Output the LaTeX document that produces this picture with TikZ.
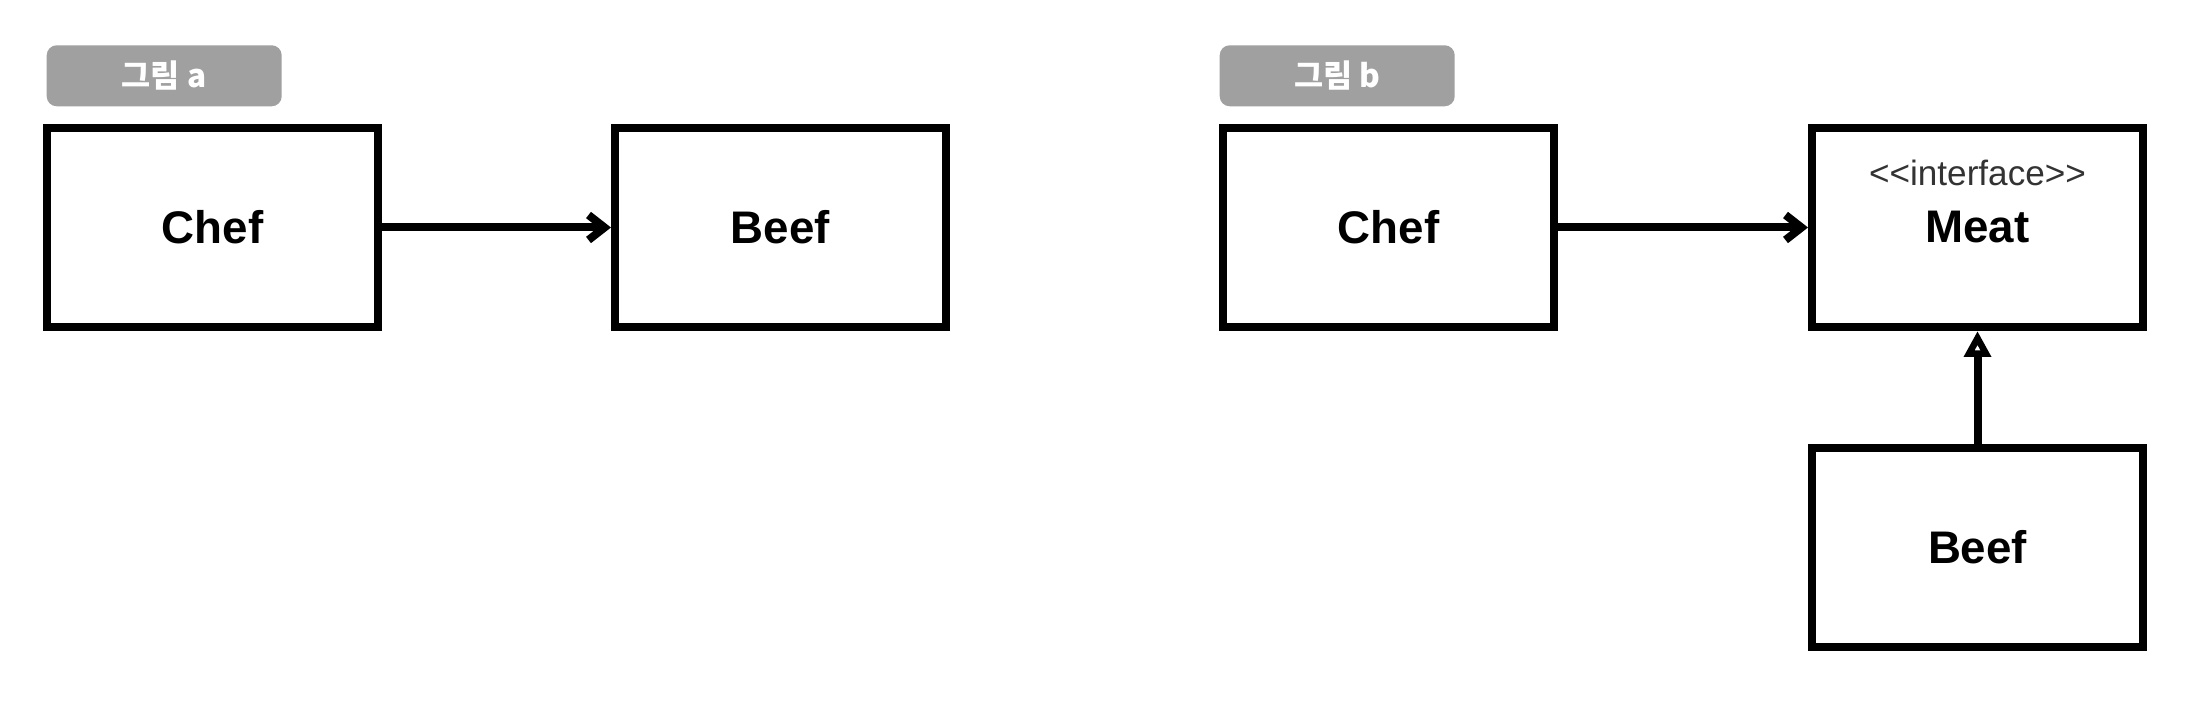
\documentclass[tikz,border=0pt]{standalone}
\usepackage{fontspec}
\setmainfont{Liberation Sans}
\newfontfamily\krfont{Noto Sans CJK KR}
\newfontfamily\stereofont{Liberation Sans}
\usepackage{tikz}
\usetikzlibrary{arrows.meta}
\usetikzlibrary{shapes,arrows,positioning}
\definecolor{tagGray}{HTML}{A0A0A0}
\definecolor{stereoGray}{HTML}{333333}
\tikzset{class-line/.style={line width=0.08cm}}
\tikzset{class-box/.style={draw, class-line, inner sep=0, minimum width=3.31cm, minimum height=1.99cm, font=\fontsize{13}{15}\selectfont\bfseries}}
\tikzset{tag-box/.style={fill=tagGray, rounded corners=0.1cm, inner sep=0, minimum width=2.35cm, minimum height=0.61cm, text=white, font=\krfont\fontsize{9}{11}\selectfont\bfseries}}
\tikzset{stereo-text/.style={inner sep=0, text=stereoGray, font=\stereofont\fontsize{10}{12}\selectfont}}
\tikzset{uses-arrow/.style={-{Straight Barb[length=0.16cm, width=0.25cm]}, class-line}}
\tikzset{extends-arrow/.style={-{Triangle[open, length=0.26cm, width=0.26cm]}, class-line}}
\begin{document}
\begin{tikzpicture}
    \useasboundingbox (0,0) rectangle (21.96,-7.08);
    % 그림 a
    \node[class-box] (chefa) at (2.125,-2.275) {Chef};
    \node[class-box, right=2.29cm of chefa] (beefa) {Beef};
    \node[tag-box, above=0.17cm of chefa.north west, anchor=south west, xshift=0.03cm] (taga) {그림 a};
    \draw[uses-arrow] (chefa) -- (beefa);

    % 그림 b
    \node[class-box, right=2.69cm of beefa] (chefb) {Chef};
    \node[class-box, right=2.5cm of chefb] (meat) {Meat};
    \node[class-box, below=1.13cm of meat] (beefb) {Beef};
    \node[stereo-text] (meatstereo) at ([yshift=0.55cm]meat.center) {<<interface>>};
    \node[tag-box, above=0.17cm of chefb.north west, anchor=south west] (tagb) {그림 b};
    \draw[uses-arrow] (chefb) -- (meat);
    \draw[extends-arrow] (beefb) -- (meat);
\end{tikzpicture}
\end{document}
